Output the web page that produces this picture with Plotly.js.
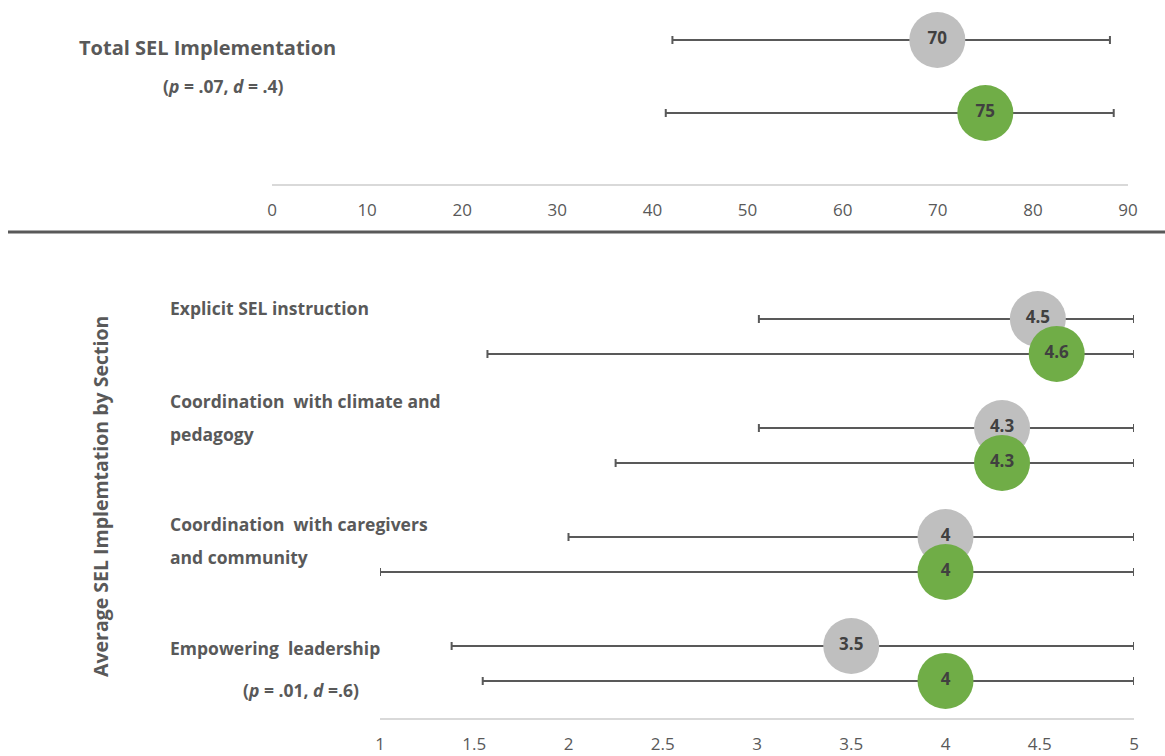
<!DOCTYPE html>
<html>
<head>
<meta charset="utf-8">
<script src="https://cdn.plot.ly/plotly-3.0.1.min.js"></script>
<style>
html,body{margin:0;padding:0;background:#fff;}
#chart{width:1165px;height:756px;}
</style>
</head>
<body>
<div id="chart"></div>
<script>
// ---- Data ----
const totalGrayMean = [69.95];
const totalGrayLabel = ['70'];
const totalGrayLow = [42.1];
const totalGrayHigh = [88.1];
const totalGreenMean = [75];
const totalGreenLabel = ['75'];
const totalGreenLow = [41.4];
const totalGreenHigh = [88.5];

const sections = ['Explicit SEL instruction',
  'Coordination&nbsp;&nbsp;with climate and<br>pedagogy',
  'Coordination&nbsp;&nbsp;with caregivers<br>and community',
  'Empowering&nbsp;&nbsp;leadership'];
const grayMean = [4.49, 4.30, 4.0, 3.5];
const grayLabel = ['4.5', '4.3', '4', '3.5'];
const grayLow = [3.01, 3.01, 2.0, 1.38];
const grayHigh = [5, 5, 5, 5];
const greenMean = [4.59, 4.30, 4.0, 4.0];
const greenLabel = ['4.6', '4.3', '4', '4'];
const greenLow = [1.57, 2.25, 1.0, 1.545];
const greenHigh = [5, 5, 5, 5];

const topTicks = [0, 10, 20, 30, 40, 50, 60, 70, 80, 90];
const bottomTicks = [1, 1.5, 2, 2.5, 3, 3.5, 4, 4.5, 5];

// ---- Styles ----
const GRAY = '#bfbfbf', GREEN = '#70ad47', BAR = '#595959', TXT = '#595959';
const LBLFONT = 'Open Sans, Roboto, sans-serif';
const TICKFONT = 'Open Sans, Liberation Sans, sans-serif';
const W = 1165, H = 756;
const GREEN_OFF = 0.32;

function errX(mean, low, high) {
  return {type: 'data', symmetric: false,
    array: mean.map((m, i) => high[i] - m),
    arrayminus: mean.map((m, i) => m - low[i]),
    color: BAR, thickness: 2, width: 4};
}
function trace(x, y, labels, low, high, color, xa, ya) {
  return {type: 'scatter', mode: 'markers+text', x: x, y: y, text: labels,
    textposition: 'middle center',
    textfont: {family: LBLFONT, size: 17, color: '#404040', weight: 'bold'},
    marker: {size: 56, color: color, line: {width: 0}},
    error_x: errX(x, low, high), xaxis: xa, yaxis: ya, showlegend: false,
    cliponaxis: false, hoverinfo: 'skip'};
}

const idx = sections.map((s, i) => i);
const data = [
  trace(totalGrayMean, [0], totalGrayLabel, totalGrayLow, totalGrayHigh, GRAY, 'x', 'y'),
  trace(totalGreenMean, [1], totalGreenLabel, totalGreenLow, totalGreenHigh, GREEN, 'x', 'y'),
  trace(grayMean, idx, grayLabel, grayLow, grayHigh, GRAY, 'x2', 'y2'),
  trace(greenMean, idx.map(i => i + GREEN_OFF), greenLabel, greenLow, greenHigh, GREEN, 'x2', 'y2')
];

const px = v => v / W;
const py = v => 1 - v / H;

const annotations = [
  {text: '<b>Total SEL Implementation</b>', x: px(77), y: py(47), xanchor: 'left', yanchor: 'middle',
   font: {family: LBLFONT, size: 20, color: TXT}},
  {text: '<b>(<i>p</i> = .07, <i>d</i> = .4)</b>', x: px(161), y: py(86), xanchor: 'left', yanchor: 'middle',
   font: {family: LBLFONT, size: 17.5, color: TXT}},
  {text: '<b>Average SEL Implemtation by Section</b>', x: px(100), y: py(497), textangle: -90,
   xanchor: 'center', yanchor: 'middle', font: {family: LBLFONT, size: 19.5, color: TXT}},
  {text: '<b>(<i>p</i> = .01, <i>d</i> =.6)</b>', x: px(241), y: py(690), xanchor: 'left', yanchor: 'middle',
   font: {family: LBLFONT, size: 17.5, color: TXT}}
];
const labelCenters = [308, 401, 524, 648];
const lineGap = 33;
sections.forEach((s, i) => {
  s.split('<br>').forEach((line, j) => {
    annotations.push({text: '<b>' + line + '</b>', x: px(168), y: py(labelCenters[i] + j * lineGap),
      xanchor: 'left', yanchor: 'middle', align: 'left',
      font: {family: LBLFONT, size: 17.5, color: TXT}});
  });
});
annotations.forEach(a => { a.xref = 'paper'; a.yref = 'paper'; a.showarrow = false; });

const layout = {
  width: W, height: H,
  margin: {l: 0, r: 0, t: 0, b: 0},
  paper_bgcolor: '#fff', plot_bgcolor: 'rgba(0,0,0,0)',
  showlegend: false,
  xaxis: {domain: [px(272), px(1128)], range: [0, 90], tickvals: topTicks, showgrid: false, zeroline: false,
    showline: true, linecolor: '#d9d9d9', linewidth: 2, ticks: 'outside', ticklen: 10, tickcolor: 'rgba(0,0,0,0)',
    tickfont: {family: TICKFONT, size: 17, color: TXT}, anchor: 'y', fixedrange: true},
  yaxis: {domain: [py(184), py(0)], range: [1 + 71 / 73, -40 / 73], showgrid: false, zeroline: false,
    showticklabels: false, showline: false, anchor: 'x', fixedrange: true},
  xaxis2: {domain: [px(380), px(1134)], range: [1, 5], tickvals: bottomTicks, showgrid: false, zeroline: false,
    showline: true, linecolor: '#d9d9d9', linewidth: 2, ticks: 'outside', ticklen: 10, tickcolor: 'rgba(0,0,0,0)',
    tickfont: {family: TICKFONT, size: 17, color: TXT}, anchor: 'y2', fixedrange: true},
  yaxis2: {domain: [py(718), py(280)], range: [(718 - 319) / 109, -39 / 109], showgrid: false, zeroline: false,
    showticklabels: false, showline: false, anchor: 'x2', fixedrange: true},
  shapes: [{type: 'line', xref: 'paper', yref: 'paper', x0: px(8), x1: 1, y0: py(232), y1: py(232),
    line: {color: BAR, width: 3}}],
  annotations: annotations
};

Plotly.newPlot('chart', data, layout, {staticPlot: true, displayModeBar: false});
</script>
</body>
</html>
